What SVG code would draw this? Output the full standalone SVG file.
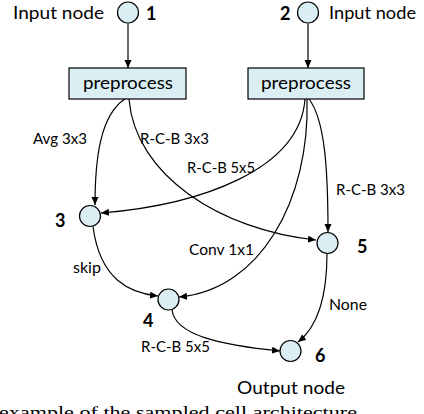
<svg xmlns="http://www.w3.org/2000/svg" width="424" height="414" viewBox="0 0 424 414">
<defs>
<marker id="ah" markerUnits="userSpaceOnUse" markerWidth="9" markerHeight="8" refX="8" refY="3.5" orient="auto">
<path d="M0,0 L8,3.5 L0,7 Z" fill="#000"/>
</marker>
<style>
.node{fill:#daeef3;stroke:#000;stroke-width:1.2}
.box{fill:#daeef3;stroke:#000;stroke-width:1.2}
.edge{fill:none;stroke:#000;stroke-width:1.2;marker-end:url(#ah)}
.t{font-family:"Lato","Liberation Sans",sans-serif;font-size:16px;fill:#000}
.big{font-family:"Lato","Liberation Sans",sans-serif;font-size:18px;fill:#000}
.num{font-family:"Lato","Liberation Sans",sans-serif;font-size:18px;font-weight:bold;fill:#000}
.cap{font-family:"Liberation Serif",serif;font-size:17px;fill:#000}
</style>
</defs>
<rect width="424" height="414" fill="#fff"/>
<g id="connectors">
<path class="edge" d="M128,23.5 L128,68"/>
<path class="edge" d="M308,23.5 L308,68"/>
<path class="edge" d="M125,99 C100,115 95,160 95,205"/>
<path class="edge" d="M129,99 C135,175 220,230 316,240"/>
<path class="edge" d="M305,99 C300,170 200,205 101,213"/>
<path class="edge" d="M307,99 C310,200 260,290 179,297"/>
<path class="edge" d="M309,99 C325,120 328,170 328,232"/>
<path class="edge" d="M93,226.5 C100,280 130,293 158,296"/>
<path class="edge" d="M172,310 C175,335 220,345 280,351"/>
<path class="edge" d="M327,253.5 C327,290 320,325 298,342"/>
</g>
<g id="node1">
<circle class="node" cx="128" cy="12.5" r="10.5"/>
<text class="big" x="13" y="19" textLength="91" lengthAdjust="spacingAndGlyphs">Input node</text>
<text class="num" x="146" y="19.5">1</text>
</g>
<g id="node2">
<circle class="node" cx="308" cy="12.5" r="10.5"/>
<text class="big" x="329" y="19" textLength="87" lengthAdjust="spacingAndGlyphs">Input node</text>
<text class="num" x="280" y="19.5">2</text>
</g>
<g id="pre1">
<rect class="box" x="69" y="68" width="117" height="31"/>
<text class="big" x="83" y="89" textLength="90" lengthAdjust="spacingAndGlyphs">preprocess</text>
</g>
<g id="pre2">
<rect class="box" x="248" y="68" width="116" height="31"/>
<text class="big" x="261" y="89" textLength="90" lengthAdjust="spacingAndGlyphs">preprocess</text>
</g>
<g id="node3">
<circle class="node" cx="90" cy="216" r="10.5"/>
<text class="num" x="55" y="227">3</text>
</g>
<g id="node4">
<circle class="node" cx="168.5" cy="299.5" r="10.5"/>
<text class="num" x="143" y="327">4</text>
</g>
<g id="node5">
<circle class="node" cx="327.5" cy="243" r="10.5"/>
<text class="num" x="357" y="253">5</text>
</g>
<g id="node6">
<circle class="node" cx="290.5" cy="351" r="10.5"/>
<text class="num" x="315" y="362">6</text>
<text class="big" x="237" y="394" textLength="108" lengthAdjust="spacingAndGlyphs">Output node</text>
</g>
<g id="labels">
<text class="t" x="33" y="144" textLength="54" lengthAdjust="spacingAndGlyphs">Avg 3x3</text>
<text class="t" x="140" y="144" textLength="69" lengthAdjust="spacingAndGlyphs">R-C-B 3x3</text>
<text class="t" x="187" y="173" textLength="68" lengthAdjust="spacingAndGlyphs">R-C-B 5x5</text>
<text class="t" x="336" y="195" textLength="69" lengthAdjust="spacingAndGlyphs">R-C-B 3x3</text>
<text class="t" x="189" y="255" textLength="65" lengthAdjust="spacingAndGlyphs">Conv 1x1</text>
<text class="t" x="73" y="273" textLength="28" lengthAdjust="spacingAndGlyphs">skip</text>
<text class="t" x="329" y="310" textLength="38" lengthAdjust="spacingAndGlyphs">None</text>
<text class="t" x="141" y="352" textLength="69" lengthAdjust="spacingAndGlyphs">R-C-B 5x5</text>
</g>
<text class="cap" x="-1" y="418" textLength="358" lengthAdjust="spacingAndGlyphs">example of the sampled cell architecture</text>
</svg>
